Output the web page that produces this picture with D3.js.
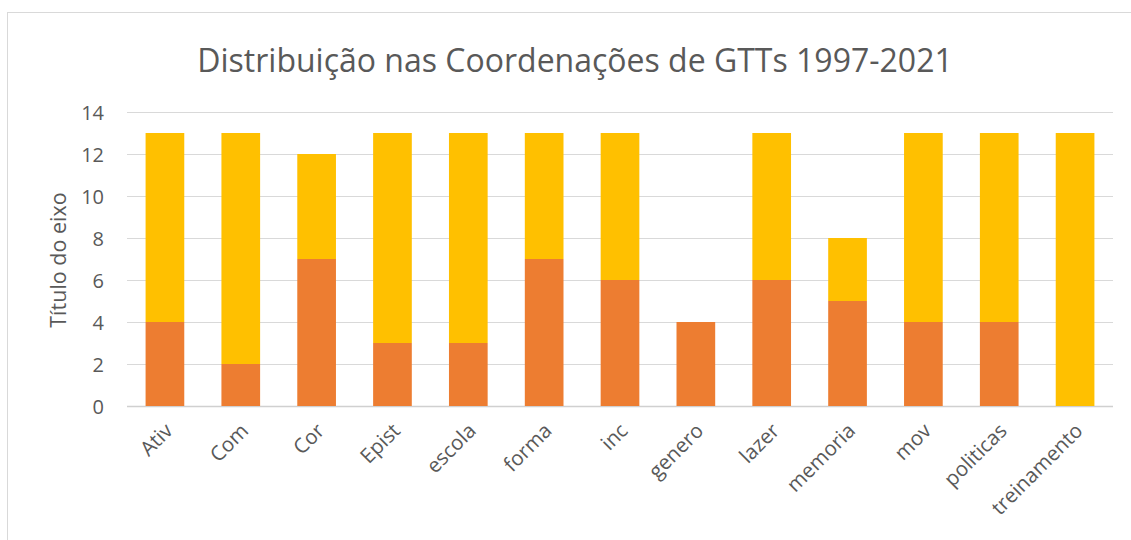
<!DOCTYPE html>
<html><head><meta charset="utf-8">
<script src="https://cdn.jsdelivr.net/npm/d3@7"></script>
<style>body{margin:0;background:#fff;} text{font-family:"Open Sans",sans-serif;fill:#595959;}</style>
</head><body>
<svg id="c" width="1131" height="540"></svg>
<script>
const categories = ["Ativ","Com","Cor","Epist","escola","forma","inc","genero","lazer","memoria","mov","politicas","treinamento"];
const serie1 = [4,2,7,3,3,7,6,4,6,5,4,4,0];
const serie2 = [9,11,5,10,10,6,7,0,7,3,9,9,13];
const yTicks = [0,2,4,6,8,10,12,14];
const title = "Distribuição nas Coordenações de GTTs 1997-2021";
const yTitle = "Título do eixo";

const svg = d3.select("#c");
svg.append("rect").attr("x",7.5).attr("y",12.5).attr("width",1140).attr("height",540)
  .attr("fill","none").attr("stroke","#d9d9d9");

const x = d3.scaleBand().domain(categories).range([127,1113]).paddingInner(0.49).paddingOuter(0.245);
const y = d3.scaleLinear().domain([0,14]).range([406,112]);

svg.append("g").selectAll("line").data(yTicks).join("line")
  .attr("x1",127).attr("x2",1113).attr("y1",d=>y(d)+0.5).attr("y2",d=>y(d)+0.5)
  .attr("stroke",d=>d===0?"#d0d0d0":"#d9d9d9").attr("stroke-width",d=>d===0?1.5:1);

const data = categories.map((c,i)=>({c, a:serie1[i], b:serie2[i]}));
const g = svg.append("g");
g.selectAll(".a").data(data).join("rect")
  .attr("x",d=>x(d.c)).attr("width",x.bandwidth())
  .attr("y",d=>y(d.a)).attr("height",d=>y(0)-y(d.a)).attr("fill","#ED7D31");
g.selectAll(".b").data(data).join("rect")
  .attr("x",d=>x(d.c)).attr("width",x.bandwidth())
  .attr("y",d=>y(d.a+d.b)).attr("height",d=>y(d.a)-y(d.a+d.b)).attr("fill","#FFC000");

const yAxis = d3.axisLeft(y).tickValues(yTicks).tickSize(0).tickPadding(0);
const ya = svg.append("g").attr("transform","translate(104,0)").call(yAxis);
ya.select(".domain").remove();
ya.selectAll("text").attr("font-size",20).style("font-family","Open Sans").attr("fill","#595959").attr("dy","0.35em");

const xAxis = d3.axisBottom(x).tickSize(0).tickPadding(0);
const xa = svg.append("g").attr("transform","translate(0,406)").call(xAxis);
xa.select(".domain").remove();
xa.selectAll("text").attr("font-size",20.5).style("font-family","Open Sans").attr("fill","#595959")
  .attr("text-anchor","end").attr("dy",0).attr("y",0)
  .attr("transform","translate(9,26) rotate(-45)");

svg.append("text").attr("x",575).attr("y",72).attr("text-anchor","middle")
  .attr("font-size",32).text(title);
svg.append("text").attr("transform","translate(58,260) rotate(-90)").attr("text-anchor","middle")
  .attr("dy","0.35em").attr("font-size",21.5).text(yTitle);
</script>
</body></html>
